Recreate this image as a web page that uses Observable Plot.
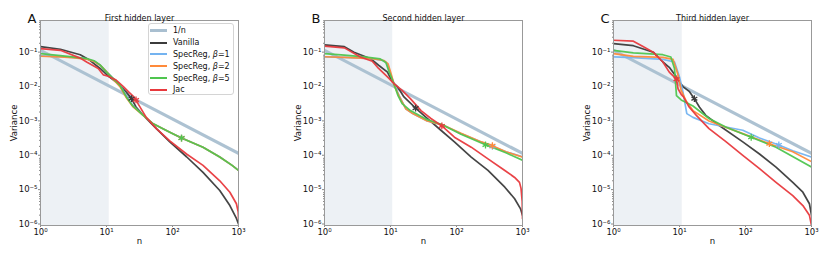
<!DOCTYPE html>
<html><head><meta charset="utf-8">
<script src="https://cdn.jsdelivr.net/npm/d3@7"></script>
<script src="https://cdn.jsdelivr.net/npm/@observablehq/plot@0.6"></script>
<style>
html,body{margin:0;padding:0;background:#fff;}
#wrap{position:relative;width:830px;height:255px;font-family:"DejaVu Sans",sans-serif;}
.panel{position:absolute;top:0;}
#legend{position:absolute;left:148px;top:23px;width:86px;height:72px;box-sizing:border-box;padding:1px 0 0 0;border:1px solid #d4d4d4;border-radius:3px;background:rgba(255,255,255,0.85);font-size:8px;color:#111;white-space:nowrap;}
#legend .row{display:flex;align-items:center;height:11.8px;}
#legend .sw{display:inline-block;width:17px;margin-left:1px;margin-right:6px;}
</style>
</head><body>
<div id="wrap"></div>
<script>
// ---------- data ----------
const panelLetters = ["A", "B", "C"];
const panelTitles = ["First hidden layer", "Second hidden layer", "Third hidden layer"];
const seriesLabels = ["1/n", "Vanilla", "SpecReg, β=1", "SpecReg, β=2", "SpecReg, β=5", "Jac"];
const seriesColors = ["#a9bfd0", "#3b3b3b", "#74b3f0", "#ff8a3a", "#4fc54f", "#e8393d"];
const shadeEnd = [11, 10.8, 11];
const xMajor = [1, 10, 100, 1000];
const yMajor = [1e-6, 1e-5, 1e-4, 1e-3, 1e-2, 1e-1];

const oneOverN = [[1, 0.125], [1000, 1.25e-4]];

const A_vanilla = [[1,0.16],[2,0.134],[4,0.093],[5.6,0.064],[8,0.037],[11,0.021],[14,0.015],[20,0.0076],[24,0.0049],[28,0.0028],[40,0.0013],[57,6.6e-4],[91,2.7e-4],[163,1e-4],[290,3.5e-5],[520,1.04e-5],[740,3.8e-6],[930,1.6e-6],[1000,1.1e-6]];
const A_beta1 = [[1,0.086],[2,0.082],[3,0.078],[5,0.07],[6.5,0.06],[8,0.046],[10,0.03],[12.6,0.019],[16,0.012],[20,0.0058],[25,0.0031],[36,0.0016],[51,9.1e-4],[91,5.2e-4],[137,3.5e-4],[290,1.9e-4],[520,9.8e-5],[800,5.6e-5],[1000,4e-5]];
const A_beta2 = [[1,0.084],[2,0.08],[3,0.077],[5,0.069],[6.5,0.059],[8,0.046],[10,0.03],[12.6,0.018],[16,0.011],[20,0.0052],[25,0.0029],[36,0.0016],[51,9.1e-4],[91,5.2e-4],[137,3.5e-4],[290,1.9e-4],[520,9.8e-5],[800,5.6e-5],[1000,4e-5]];
const A_beta5 = [[1,0.1],[2,0.088],[3,0.08],[5,0.072],[6.5,0.062],[8,0.047],[10,0.029],[12.6,0.019],[16,0.012],[20,0.0055],[25,0.003],[36,0.0016],[51,9.1e-4],[91,5.2e-4],[137,3.5e-4],[290,1.9e-4],[520,9.8e-5],[800,5.6e-5],[1000,4e-5]];
const A_jac = [[1,0.14],[2,0.125],[4,0.074],[5,0.057],[7.5,0.037],[9,0.024],[10.6,0.022],[14,0.017],[18,0.011],[22,0.0075],[26,0.0055],[30,0.0035],[40,0.0014],[57,6.6e-4],[91,2.9e-4],[163,1.2e-4],[290,5.6e-5],[520,2e-5],[740,9.3e-6],[930,4.3e-6],[990,2.5e-6],[1000,1.6e-6]];

const B_vanilla = [[1,0.18],[2,0.16],[2.8,0.11],[5,0.071],[6.6,0.046],[9,0.029],[10.7,0.015],[12.7,0.011],[16,0.0055],[24,0.0026],[36,0.0013],[58,5.9e-4],[93,2.7e-4],[167,9.8e-5],[300,4e-5],[540,1.3e-5],[760,6e-6],[930,3.1e-6],[1000,2e-6]];
const B_beta1 = [[1,0.08],[2,0.078],[3,0.075],[5,0.072],[8,0.062],[9,0.05],[10,0.026],[11.4,0.013],[13.5,0.006],[17,0.0025],[21.7,0.0018],[36,0.0011],[61,8.5e-4],[117,4.7e-4],[238,2.7e-4],[350,2e-4],[560,1.4e-4],[1000,1e-4]];
const B_beta2 = [[1,0.081],[2,0.078],[3,0.075],[5,0.072],[8,0.063],[9.2,0.05],[10.2,0.026],[11.4,0.012],[13.5,0.0058],[17,0.0025],[21.7,0.0018],[36,0.0011],[61,8.5e-4],[117,4.8e-4],[238,2.7e-4],[350,2.1e-4],[560,1.4e-4],[1000,9.8e-5]];
const B_beta5 = [[1,0.1],[2,0.09],[4,0.08],[7,0.07],[8.5,0.055],[9.5,0.03],[11,0.015],[13,0.006],[15,0.0035],[20,0.0022],[36,0.0012],[61,8.5e-4],[117,4.5e-4],[238,2.5e-4],[300,2.1e-4],[560,1.3e-4],[1000,7.9e-5]];
const B_jac = [[1,0.166],[2,0.147],[3.5,0.08],[5.3,0.06],[6.6,0.037],[9,0.021],[11.5,0.013],[15,0.0085],[20,0.0049],[29,0.0022],[41,0.0013],[60,7.9e-4],[93,3.7e-4],[167,1.9e-4],[300,8.7e-5],[540,4e-5],[760,2.5e-5],[900,1.8e-5],[950,1.2e-5],[990,5e-6],[1000,1.6e-6]];

const C_vanilla = [[1,0.195],[2,0.17],[4,0.11],[5.6,0.057],[7,0.04],[9,0.021],[10,0.015],[11.3,0.011],[14,0.008],[16.8,0.0049],[20,0.0028],[25,0.0016],[40,8.1e-4],[91,2.7e-4],[163,1.2e-4],[290,5e-5],[520,1.8e-5],[740,9.3e-6],[930,4.3e-6],[1000,2e-6]];
const C_beta1 = [[1,0.08],[2,0.077],[5.6,0.068],[8.4,0.057],[10,0.021],[11.3,0.0076],[12.9,0.0018],[16,0.0014],[28,9.1e-4],[91,5.9e-4],[163,3.5e-4],[320,2.2e-4],[520,1.5e-4],[1000,9.8e-5]];
const C_beta2 = [[1,0.1],[2,0.083],[5.6,0.078],[8,0.068],[9.4,0.026],[10.6,0.0085],[12.6,0.0042],[16,0.0022],[28,0.0011],[91,4.7e-4],[230,2.4e-4],[520,1.4e-4],[1000,7.2e-5]];
const C_beta5 = [[1,0.125],[2,0.105],[5.6,0.093],[7.4,0.08],[8.4,0.037],[9,0.006],[10.6,0.0045],[16,0.003],[28,0.0013],[51,7.2e-4],[122,3.7e-4],[290,1.9e-4],[1000,5e-5]];
const C_jac = [[1,0.245],[2,0.23],[2.8,0.16],[4,0.11],[5.6,0.057],[7,0.029],[9,0.018],[9.5,0.0095],[10.6,0.0065],[11.5,0.0055],[14,0.0028],[18,0.0016],[28,6.6e-4],[51,2.7e-4],[91,1.1e-4],[163,4.5e-5],[290,1.8e-5],[520,7.4e-6],[740,3.8e-6],[930,2e-6],[1000,1e-6]];

// star markers: [series index, n, value]
const A_stars = [[1,24,0.0049],[5,28,0.0045],[2,137,3.5e-4],[3,137,3.5e-4],[4,137,3.5e-4]];
const B_stars = [[1,24,0.0026],[5,60,7.9e-4],[2,350,2e-4],[3,350,2.1e-4],[4,275,2.2e-4]];
const C_stars = [[1,16.8,0.0049],[5,9,0.018],[2,320,2.2e-4],[3,230,2.4e-4],[4,122,3.7e-4]];

const panels = [
  [oneOverN, A_vanilla, A_beta1, A_beta2, A_beta5, A_jac],
  [oneOverN, B_vanilla, B_beta1, B_beta2, B_beta5, B_jac],
  [oneOverN, C_vanilla, C_beta1, C_beta2, C_beta5, C_jac]
];
const panelStars = [A_stars, B_stars, C_stars];
const panelLeft = [0, 284, 573];

// ---------- drawing ----------
const supMap = {"-":"⁻","0":"⁰","1":"¹","2":"²","3":"³","4":"⁴","5":"⁵","6":"⁶","7":"⁷","8":"⁸","9":"⁹"};
const fmt = d => "10" + String(Math.round(Math.log10(d))).split("").map(c => supMap[c]).join("");
const minorOf = (decs) => decs.flatMap(d => [2,3,4,5,6,7,8,9].map(k => d * k));
const xMinor = minorOf([1, 10, 100]);
const yMinor = minorOf([1e-6, 1e-5, 1e-4, 1e-3, 1e-2, 1e-1]).filter(v => v < 0.92);

const wrap = document.getElementById("wrap");
panels.forEach((series, p) => {
  const marks = [
    Plot.rect([{x1: 1, x2: shadeEnd[p]}], {x1: "x1", x2: "x2", fill: "#edf1f5"}),
    Plot.axisX(xMinor, {tickSize: 1, tickFormat: () => "", stroke: "#888", label: null}),
    Plot.axisY(yMinor, {tickSize: 1, tickFormat: () => "", stroke: "#888", label: null}),
    Plot.axisX({ticks: xMajor, tickFormat: fmt, tickSize: 2, tickPadding: 1, stroke: "#888", fontSize: 8.5,
      label: "n", labelAnchor: "center", labelArrow: "none", labelOffset: 18}),
    Plot.axisY({ticks: yMajor, tickFormat: fmt, tickSize: 2, tickPadding: 1, dy: -1.5, stroke: "#888", fontSize: 8.5,
      label: "Variance", labelAnchor: "center", labelArrow: "none", labelOffset: 30}),
  ];
  series.forEach((data, i) => {
    marks.push(Plot.line(data, {x: d => d[0], y: d => d[1], stroke: seriesColors[i],
      strokeWidth: i === 0 ? 3.2 : 1.7, strokeOpacity: 0.95, clip: true}));
  });
  marks.push(Plot.dot(panelStars[p], {x: d => d[1], y: d => d[2], stroke: d => seriesColors[d[0]],
    symbol: "asterisk", r: 3.2, strokeWidth: 1.3}));
  marks.push(Plot.frame({stroke: "#999", strokeWidth: 1}));
  marks.push(Plot.text([panelTitles[p]], {frameAnchor: "top", dy: -5.5, fontSize: 8, fill: "#111"}));
  marks.push(Plot.text([panelLetters[p]], {frameAnchor: "top-left", textAnchor: "start", dx: -13, dy: -7, fontSize: 13, fill: "#111"}));
  const chart = Plot.plot({
    width: 250, height: 255,
    marginLeft: 40, marginRight: 12, marginTop: 20, marginBottom: 30,
    style: {fontFamily: "DejaVu Sans", fontSize: "8.5px", color: "#111", background: "transparent"},
    x: {type: "log", domain: [1, 1000]},
    y: {type: "log", domain: [1e-6, 0.92]},
    marks
  });
  chart.classList.add("panel");
  chart.style.left = panelLeft[p] + "px";
  chart.style.position = "absolute";
  wrap.appendChild(chart);
});

// legend (panel A)
const leg = document.createElement("div");
leg.id = "legend";
seriesLabels.forEach((lab, i) => {
  const row = document.createElement("div");
  row.className = "row";
  const sw = document.createElement("span");
  sw.className = "sw";
  sw.style.borderTop = (i === 0 ? 3 : 2) + "px solid " + seriesColors[i];
  row.appendChild(sw);
  const t = document.createElement("span");
  t.innerHTML = lab.replace("β", "<i>β</i>");
  row.appendChild(t);
  leg.appendChild(row);
});
wrap.appendChild(leg);
</script>
</body></html>
